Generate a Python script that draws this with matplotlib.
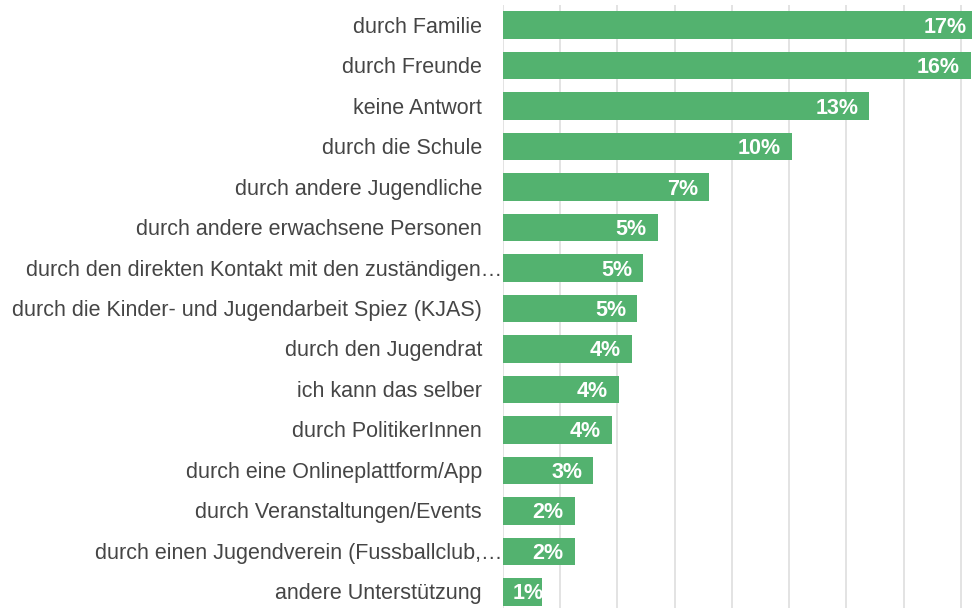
import numpy as np
import matplotlib
matplotlib.use("Agg")
import matplotlib.pyplot as plt
from matplotlib.transforms import blended_transform_factory, offset_copy

# categories top to bottom
categories = [
    "durch Familie",
    "durch Freunde",
    "keine Antwort",
    "durch die Schule",
    "durch andere Jugendliche",
    "durch andere erwachsene Personen",
    "durch den direkten Kontakt mit den zuständigen…",
    "durch die Kinder- und Jugendarbeit Spiez (KJAS)",
    "durch den Jugendrat",
    "ich kann das selber",
    "durch PolitikerInnen",
    "durch eine Onlineplattform/App",
    "durch Veranstaltungen/Events",
    "durch einen Jugendverein (Fussballclub,…",
    "andere Unterstützung",
]
# share in percent
values = [16.6, 16.35, 12.8, 10.1, 7.2, 5.4, 4.9, 4.7, 4.5, 4.05, 3.8, 3.15, 2.5, 2.5, 1.35]
value_labels = ["17%", "16%", "13%", "10%", "7%", "5%", "5%", "5%", "4%", "4%", "4%", "3%", "2%", "2%", "1%"]

bar_color = "#53b26f"
text_color = "#454545"
grid_color = "#dedede"

fig = plt.figure(figsize=(9.72, 6.08), dpi=100)
# axes reaches past the right and bottom edge, like the cropped original
ax = fig.add_axes([503 / 972, -4 / 608, 515 / 972, 607 / 608])

y = np.arange(len(categories))
bars = ax.barh(y, values, height=0.68, color=bar_color, zorder=2)

ax.set_xlim(0, 18)
ax.set_ylim(len(categories) - 0.5, -0.5)
ax.set_xticks(np.arange(0, 19, 2))
ax.xaxis.grid(True, color=grid_color, linewidth=1.2, zorder=0)
ax.set_axisbelow(True)
ax.tick_params(left=False, bottom=False, labelleft=False, labelbottom=False)
for s in ax.spines.values():
    s.set_visible(False)

# category labels, right aligned left of the axis
tr = blended_transform_factory(ax.transAxes, ax.transData)
for i, cat in enumerate(categories):
    dx = -1 if cat.endswith("…") else -21
    ax.text(0, i, cat, ha="right", va="center", fontsize=15.5,
            color=text_color, family="Liberation Sans",
            transform=offset_copy(tr, fig=fig, x=dx, y=-2, units="dots"))

# value labels inside the bar end
for i, (v, lab, b) in enumerate(zip(values, value_labels, bars)):
    if v < 2:
        t = ax.text(0, i, lab, ha="left", va="center", fontsize=15.5,
                    fontweight="bold", color="white", family="Liberation Sans",
                    transform=offset_copy(ax.transData, fig=fig, x=10, y=-2, units="dots"))
        t.set_clip_path(b)
    else:
        ax.text(v, i, lab, ha="right", va="center", fontsize=15.5,
                fontweight="bold", color="white", family="Liberation Sans",
                transform=offset_copy(ax.transData, fig=fig, x=-11, y=-2, units="dots"))

fig.savefig("out.png", dpi=100)
